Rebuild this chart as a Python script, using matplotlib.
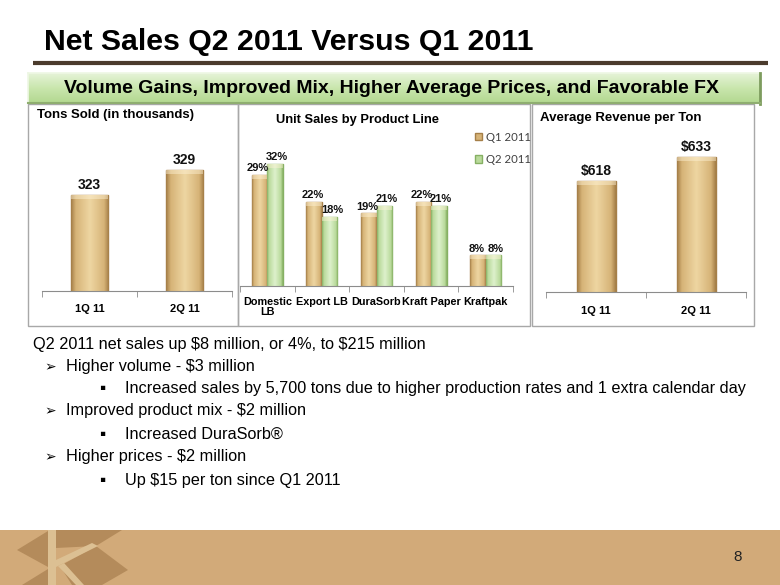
import numpy as np
import matplotlib
matplotlib.use('Agg')
import matplotlib.pyplot as plt
from matplotlib.patches import Rectangle, Polygon
from matplotlib.colors import LinearSegmentedColormap

# ---------------- data ----------------
tons_periods = ['1Q 11', '2Q 11']
tons_sold = [323, 329]

product_lines = ['Domestic\nLB', 'Export LB', 'DuraSorb', 'Kraft Paper', 'Kraftpak']
share_q1 = [29, 22, 19, 22, 8]
share_q2 = [32, 18, 21, 21, 8]
series_names = ['Q1 2011', 'Q2 2011']

rev_periods = ['1Q 11', '2Q 11']
avg_revenue = [618, 633]

title_text = 'Net Sales Q2 2011 Versus Q1 2011'
banner_text = 'Volume Gains, Improved Mix, Higher Average Prices, and Favorable FX'
panel_titles = ['Tons Sold (in thousands)', 'Unit Sales by Product Line', 'Average Revenue per Ton']
bullet_levels = [0, 1, 2, 1, 2, 1, 2]
bullet_lines = ['Q2 2011 net sales up $8 million, or 4%, to $215 million',
                'Higher volume - $3 million',
                'Increased sales by 5,700 tons due to higher production rates and 1 extra calendar day',
                'Improved product mix - $2 million',
                'Increased DuraSorb\u00ae',
                'Higher prices - $2 million',
                'Up $15 per ton since Q1 2011']
page_number = '8'

# ---------------- setup ----------------
plt.rcParams['font.family'] = ['Liberation Sans', 'DejaVu Sans']
plt.rcParams['text.parse_math'] = False
W, H = 780, 585
fig = plt.figure(figsize=(W / 100, H / 100), dpi=100)
fig.patch.set_facecolor('white')

bg = fig.add_axes([0, 0, 1, 1], zorder=-5)
bg.axis('off')

def fax(l, t, r, b):
    return fig.add_axes([l / W, 1 - b / H, (r - l) / W, (b - t) / H])

TAN = ('#a57f48', '#d6b377', '#eed6a2')
GRN = ('#86b063', '#b9da9b', '#def1cc')

def bevel(ax, bars, cols):
    dark, mid, light = cols
    cmap = LinearSegmentedColormap.from_list(
        'bev', [(0, dark), (0.12, mid), (0.5, light), (0.88, mid), (1, dark)])
    prof = np.linspace(0, 1, 64)[None, :]
    ylo, yhi = ax.get_ylim()
    hpx = ax.get_position().height * H
    per_px = (yhi - ylo) / hpx
    for b in bars:
        x0, y0 = b.get_x(), max(b.get_y(), ylo)
        w, top = b.get_width(), b.get_y() + b.get_height()
        im = ax.imshow(prof, cmap=cmap, extent=(x0, x0 + w, y0, top),
                       aspect='auto', origin='lower', zorder=2.5,
                       interpolation='bilinear')
        im.set_clip_path(b)
        cap = Rectangle((x0, top - 4 * per_px), w, 4 * per_px, fc='#fff3d6', alpha=0.45,
                        ec='none', zorder=2.6)
        ax.add_patch(cap)
        cap.set_clip_path(b)
        b.set_edgecolor(dark)

def style_cat_axis(ax, labels, pad, fs=8):
    n = len(labels)
    for s in ['top', 'right', 'left']:
        ax.spines[s].set_visible(False)
    ax.spines['bottom'].set_color('#8c8c8c')
    ax.set_yticks([])
    ax.set_xlim(-0.5, n - 0.5)
    ax.set_xticks(range(n))
    ax.set_xticklabels(labels, fontsize=fs, fontweight='bold', linespacing=1.0)
    ax.set_xticks(np.arange(-0.5, n, 1.0), minor=True)
    ax.tick_params(axis='x', which='major', length=0, pad=pad)
    ax.tick_params(axis='x', which='minor', length=4, color='#8c8c8c', direction='out')
    ax.patch.set_alpha(0)

# ---------------- header ----------------
bg.text(44, 50.5, title_text, fontsize=21.8, fontweight='bold',
        va='baseline', ha='left', color='black')
bg.plot([33, 768], [62.5, 62.5], color='#4b3b2d', lw=3, solid_capstyle='butt')

# banner with gradient
bx0, by0, bx1, by1 = 28, 73, 760, 103
grad = np.linspace(0, 1, 64)[:, None]
gcmap = LinearSegmentedColormap.from_list('g', ['#e6f3d8', '#c9e6ad', '#b3d890'])
bg.imshow(grad, cmap=gcmap, extent=(bx0, bx1, by1, by0), aspect='auto', origin='upper', zorder=1)
bg.plot([bx0, bx1], [by0, by0], color='#eef7e4', lw=1.2, zorder=2)
bg.plot([bx0, bx0], [by0, by1], color='#eef7e4', lw=1.2, zorder=2)
bg.plot([bx1, bx1], [by0, by1 + 1], color='#7d9c5e', lw=2, zorder=2)
bg.plot([bx0, bx1], [by1, by1], color='#8fae70', lw=1.5, zorder=2)
bg.text((bx0 + bx1) / 2 - 2, 88.5, banner_text, fontsize=14, fontweight='bold',
        ha='center', va='center', color='black', zorder=3)

# panel borders
for (l, t, r, b) in [(28, 104, 238, 326), (238, 104, 530, 326), (532, 104, 754, 326)]:
    bg.add_patch(Rectangle((l, t), r - l, b - t, fill=False, ec='#a8a8a8', lw=1, zorder=0))

# ---------------- panel 1: tons sold ----------------
ax1 = fax(42, 145, 232, 291)
b1 = ax1.bar(range(len(tons_sold)), tons_sold, width=0.39, zorder=2, lw=1)
ax1.set_ylim(300, 335)
bevel(ax1, b1, TAN)
style_cat_axis(ax1, tons_periods, pad=9)
ax1.set_ylim(300, 335)
for i, v in enumerate(tons_sold):
    ax1.annotate(f'{v}', (i, v), xytext=(0, 2), textcoords='offset points',
                 ha='center', va='bottom', fontsize=10, fontweight='bold', color='#111111')
bg.text(37, 115, panel_titles[0], fontsize=9.5, fontweight='bold', ha='left', va='center')

# ---------------- panel 2: unit sales ----------------
ax2 = fax(240, 133, 513, 286)
x = np.arange(len(product_lines))
bw = 0.285
bq1 = ax2.bar(x - bw / 2, share_q1, width=bw, zorder=2, lw=1)
bq2 = ax2.bar(x + bw / 2, share_q2, width=bw, zorder=2, lw=1)
ax2.set_ylim(0, 40)
bevel(ax2, bq1, TAN)
bevel(ax2, bq2, GRN)
style_cat_axis(ax2, product_lines, pad=8, fs=7.8)
ax2.set_ylim(0, 40)
for xs, vals, dx in [(x - bw / 2, share_q1, -1.2), (x + bw / 2, share_q2, 1.6)]:
    for xi, v in zip(xs, vals):
        ax2.annotate(f'{v}%', (xi, v), xytext=(dx, 1.2), textcoords='offset points',
                     ha='center', va='bottom', fontsize=8, fontweight='bold', color='#111111')
bg.text(357, 120, panel_titles[1], fontsize=9.3, fontweight='bold', ha='center', va='center')
handles = [Rectangle((0, 0), 1, 1, fc=TAN[1], ec=TAN[0]), Rectangle((0, 0), 1, 1, fc=GRN[1], ec=GRN[0])]
fig.legend(handles, series_names, loc='upper left', bbox_to_anchor=(469 / W, 1 - 126 / H),
           frameon=False, handlelength=0.6, handleheight=0.6, handletextpad=0.35,
           labelspacing=1.0, borderpad=0, prop=dict(family=['Lato', 'DejaVu Sans'], size=8.2),
           labelcolor='#404040')

# ---------------- panel 3: average revenue ----------------
ax3 = fax(546, 129, 746, 292)
b3 = ax3.bar(range(len(avg_revenue)), avg_revenue, width=0.39, zorder=2, lw=1)
ax3.set_ylim(550, 650)
bevel(ax3, b3, TAN)
style_cat_axis(ax3, rev_periods, pad=10)
ax3.set_ylim(550, 650)
for i, v in enumerate(avg_revenue):
    ax3.annotate(f'${v}', (i, v), xytext=(0, 2), textcoords='offset points',
                 ha='center', va='bottom', fontsize=10, fontweight='bold', color='#111111')
bg.text(540, 118, panel_titles[2], fontsize=9.5, fontweight='bold', ha='left', va='center')

# ---------------- bullets ----------------
ys = [344, 367, 389, 411, 434, 457, 480]
marker_x = {1: 44, 2: 99}
text_x = {0: 33, 1: 66, 2: 125}
for lvl, line, y in zip(bullet_levels, bullet_lines, ys):
    if lvl == 1:
        bg.text(marker_x[1], y, '\u27a2', fontsize=10, ha='left', va='center',
                family=['DejaVu Sans'])
    elif lvl == 2:
        bg.text(marker_x[2], y, '\u25aa', fontsize=12.5, ha='left', va='center',
                family=['Liberation Sans', 'DejaVu Sans'])
    bg.text(text_x[lvl], y, line, fontsize=11.7, ha='left', va='center', color='black')

# ---------------- footer ----------------
bg.add_patch(Rectangle((0, 530), W, 55, fc='#d2aa79', ec='none', zorder=0))
dk = '#b48b5b'
for pts in [[(17, 550), (48, 531), (48, 567)],
            [(56, 530), (122, 530), (96, 546), (56, 548)],
            [(60, 566), (96, 546), (128, 570), (102, 585), (72, 585)],
            [(22, 585), (48, 569), (48, 585)]]:
    bg.add_patch(Polygon(pts, closed=True, fc=dk, ec='none', zorder=1))
lk = '#dcc093'
bg.add_patch(Rectangle((48, 530), 8, 55, fc=lk, ec='none', zorder=2))
bg.add_patch(Polygon([(56, 560), (92, 543), (98, 546), (56, 567)], closed=True, fc=lk, ec='none', zorder=2))
bg.add_patch(Polygon([(58, 566), (64, 563), (84, 585), (76, 585)], closed=True, fc=lk, ec='none', zorder=2))
bg.text(738, 557, page_number, fontsize=11, ha='center', va='center', color='#222222')

bg.set_xlim(0, W)
bg.set_ylim(H, 0)

fig.savefig('out.png', dpi=100)
